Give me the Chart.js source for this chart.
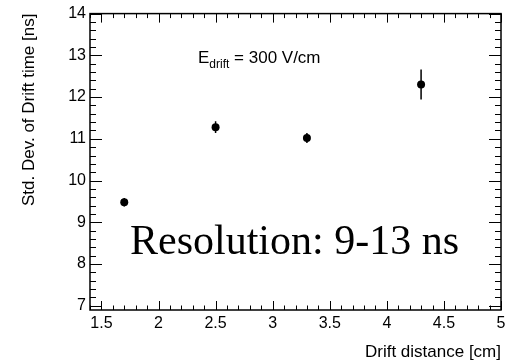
<!DOCTYPE html>
<html>
<head>
<meta charset="utf-8">
<script src="https://cdn.jsdelivr.net/npm/chart.js@4/dist/chart.umd.min.js"></script>
<style>
  html, body { margin: 0; padding: 0; background: #fff; }
  #wrap { width: 510px; height: 361px; }
</style>
</head>
<body>
<div id="wrap"><canvas id="driftChart" width="510" height="361"></canvas></div>
<script>
// drift distance [cm] and std. dev. of drift time [ns]
const distances = [1.7, 2.5, 3.3, 4.3];
const sigmas = [9.48, 11.28, 11.02, 12.3];
const sigmaErrors = [0.1, 0.14, 0.12, 0.36];

const xTickValues = [1.5, 2, 2.5, 3, 3.5, 4, 4.5, 5];
const yTickValues = [7, 8, 9, 10, 11, 12, 13, 14];

const sans = "'Liberation Sans', Arial, sans-serif";
const serif = "'Liberation Serif', 'Times New Roman', serif";

// frame with inward ticks on all four sides, error bars and the text boxes
const rootFrame = {
    id: 'rootFrame',
    beforeDatasetsDraw(chart) {
        const ctx = chart.ctx;
        const xs = chart.scales.x, ys = chart.scales.y;
        ctx.save();
        ctx.strokeStyle = '#000';
        ctx.lineWidth = 1.5;
        ctx.beginPath();
        for (let i = 0; i < distances.length; i++) {
            const px = xs.getPixelForValue(distances[i]);
            ctx.moveTo(px, ys.getPixelForValue(sigmas[i] - sigmaErrors[i]));
            ctx.lineTo(px, ys.getPixelForValue(sigmas[i] + sigmaErrors[i]));
        }
        ctx.stroke();
        ctx.restore();
    },
    afterDraw(chart) {
        const ctx = chart.ctx;
        const a = chart.chartArea;
        const xs = chart.scales.x, ys = chart.scales.y;
        ctx.save();
        ctx.strokeStyle = '#000';
        ctx.lineWidth = 1;

        ctx.beginPath();
        // x ticks every 0.1, major every 0.5
        for (let i = 14; i <= 50; i++) {
            const px = Math.round(xs.getPixelForValue(i / 10)) + 0.5;
            const len = i % 5 === 0 ? 9 : 4.5;
            ctx.moveTo(px, a.bottom);
            ctx.lineTo(px, a.bottom - len);
            ctx.moveTo(px, a.top);
            ctx.lineTo(px, a.top + len);
        }
        // y ticks every 0.2, major every 1
        for (let i = 35; i <= 70; i++) {
            const py = Math.round(ys.getPixelForValue(i / 5)) + 0.5;
            const len = i % 5 === 0 ? 12 : 6;
            ctx.moveTo(a.left, py);
            ctx.lineTo(a.left + len, py);
            ctx.moveTo(a.right, py);
            ctx.lineTo(a.right - len, py);
        }
        ctx.stroke();

        ctx.lineWidth = 1.5;
        ctx.strokeRect(a.left, a.top, a.right - a.left, a.bottom - a.top);

        // field label
        ctx.fillStyle = '#000';
        ctx.textBaseline = 'alphabetic';
        ctx.textAlign = 'left';
        let tx = a.left + 108;
        const ty = a.top + 49;
        ctx.font = '17px ' + sans;
        ctx.fillText('E', tx, ty);
        tx += ctx.measureText('E').width;
        ctx.font = '12px ' + sans;
        ctx.fillText('drift', tx, ty + 5);
        tx += ctx.measureText('drift').width;
        ctx.font = '17px ' + sans;
        ctx.fillText(' = 300 V/cm', tx, ty);

        ctx.font = '42px ' + serif;
        ctx.fillText('Resolution: 9-13 ns', a.left + 40, a.top + 240);
        ctx.restore();
    }
};

const chart = new Chart(document.getElementById('driftChart').getContext('2d'), {
    type: 'scatter',
    data: {
        datasets: [{
            data: distances.map((d, i) => ({ x: d, y: sigmas[i] })),
            backgroundColor: '#000',
            borderColor: '#000',
            borderWidth: 0,
            pointRadius: 4,
            pointHoverRadius: 4
        }]
    },
    options: {
        responsive: false,
        animation: false,
        events: [],
        layout: { padding: { top: 13, right: 9, left: 0, bottom: 0 } },
        plugins: {
            legend: { display: false },
            tooltip: { enabled: false }
        },
        scales: {
            x: {
                type: 'linear',
                min: 1.4,
                max: 5,
                afterBuildTicks: s => { s.ticks = xTickValues.map(v => ({ value: v })); },
                afterFit: s => { s.height = 51; },
                grid: { display: false, drawTicks: false },
                border: { display: false },
                ticks: {
                    color: '#000',
                    font: { family: sans, size: 16 },
                    padding: 4,
                    maxRotation: 0,
                    callback: v => String(v)
                },
                title: {
                    display: true,
                    text: 'Drift distance [cm]',
                    align: 'end',
                    color: '#000',
                    font: { family: sans, size: 17, lineHeight: 1 },
                    padding: { top: 0, bottom: 0 }
                }
            },
            y: {
                type: 'linear',
                min: 6.9,
                max: 14,
                afterBuildTicks: s => { s.ticks = yTickValues.map(v => ({ value: v })); },
                afterFit: s => { s.width = 90; },
                grid: { display: false, drawTicks: false },
                border: { display: false },
                ticks: {
                    color: '#000',
                    font: { family: sans, size: 16 },
                    padding: 4,
                    callback: v => String(v)
                },
                title: {
                    display: true,
                    text: 'Std. Dev. of Drift time [ns]',
                    align: 'end',
                    color: '#000',
                    font: { family: sans, size: 17, lineHeight: 1 },
                    padding: { top: 21, bottom: 0 }
                }
            }
        }
    },
    plugins: [rootFrame]
});
</script>
</body>
</html>
